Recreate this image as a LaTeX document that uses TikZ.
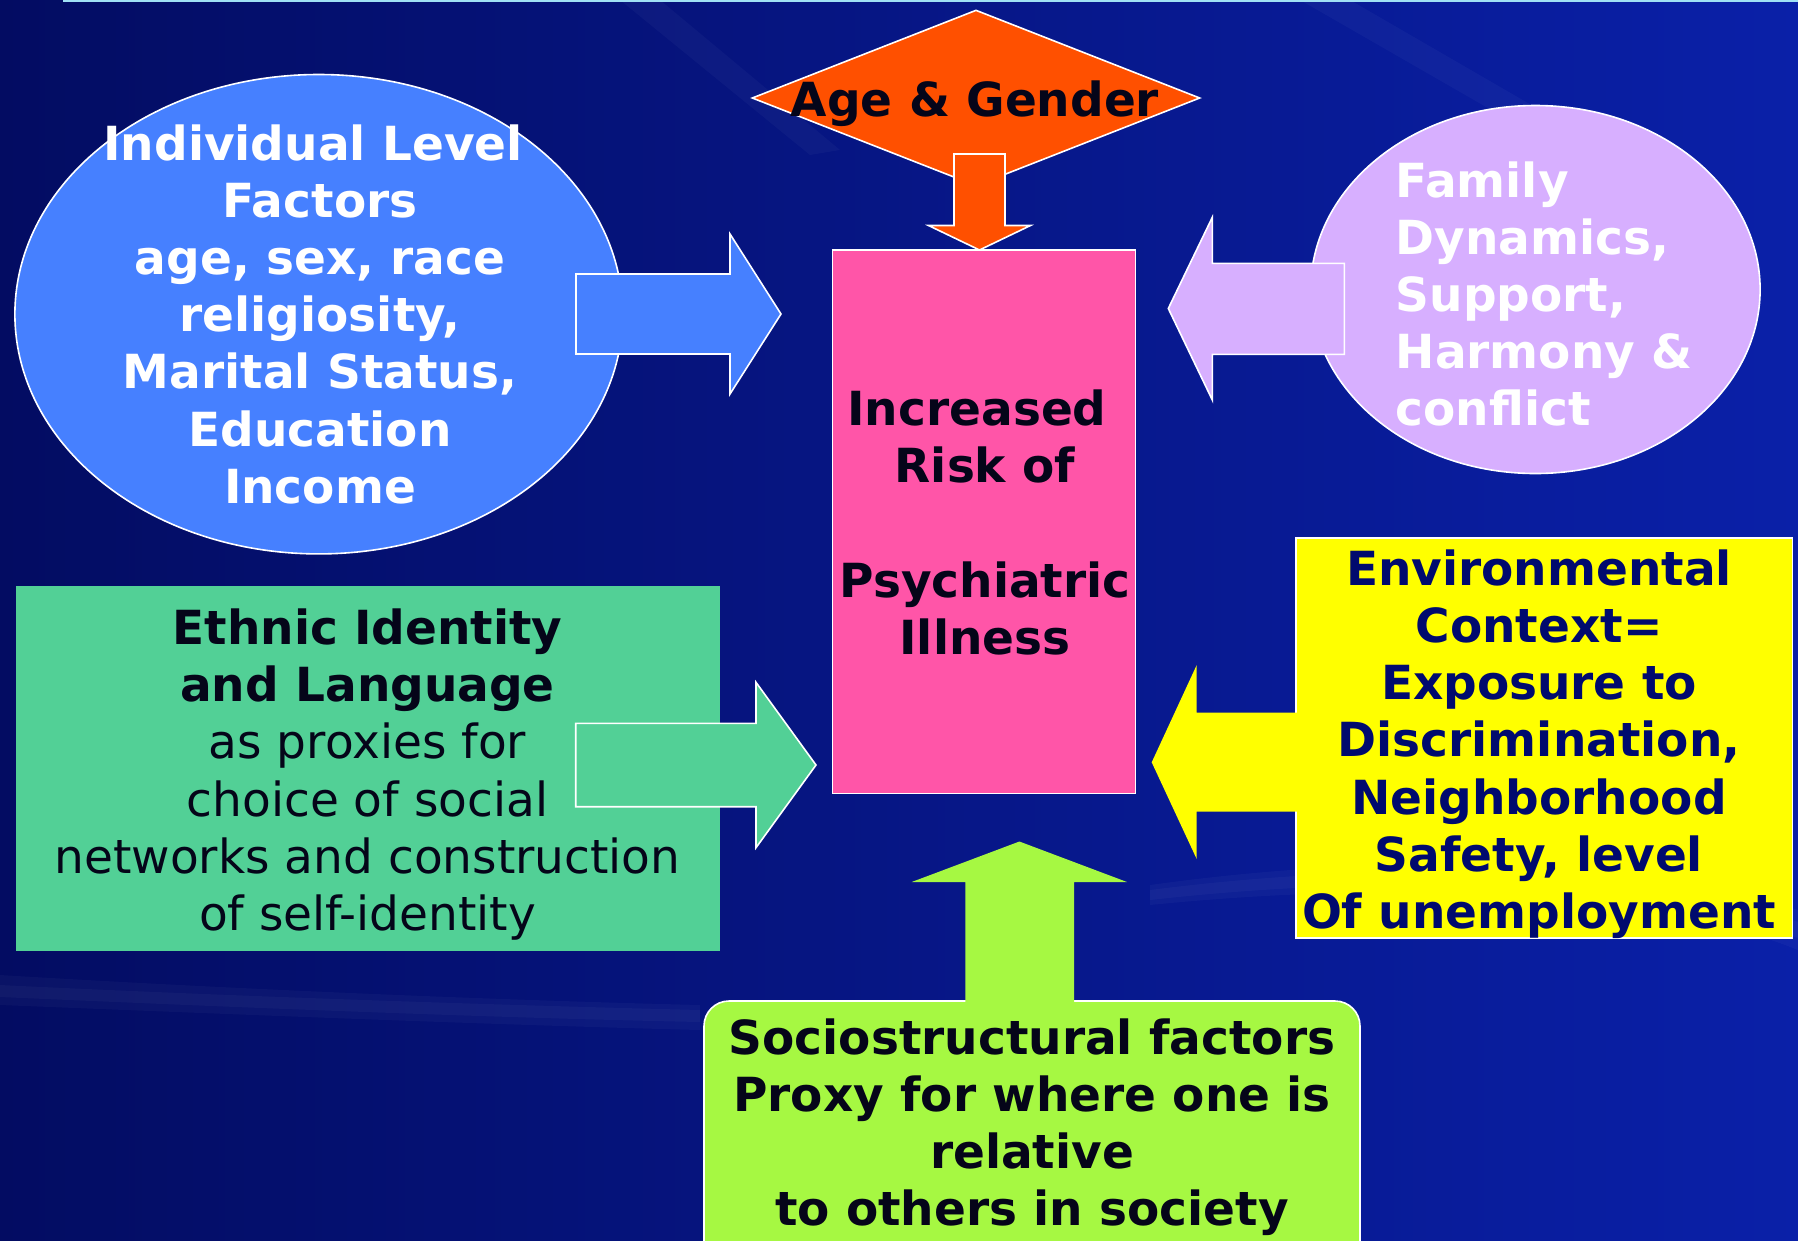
\documentclass[tikz,border=0pt]{standalone}
\usepackage{fontspec}
\setmainfont{DejaVu Sans}
\usetikzlibrary{shapes.geometric}
\definecolor{bgL}{RGB}{3,12,98}
\definecolor{bgR}{RGB}{10,32,168}
\definecolor{topline}{RGB}{160,225,245}
\definecolor{cBlue}{RGB}{70,128,255}
\definecolor{cPink}{RGB}{255,85,168}
\definecolor{cOrange}{RGB}{255,80,0}
\definecolor{cLav}{RGB}{215,175,255}
\definecolor{cGreen}{RGB}{82,208,150}
\definecolor{cYellow}{RGB}{255,255,0}
\definecolor{cLime}{RGB}{166,248,66}
\definecolor{cNavy}{RGB}{0,10,110}
\definecolor{cInk}{RGB}{5,5,25}
\begin{document}
\begin{tikzpicture}[x=1pt,y=-1pt,
  outl/.style={draw=white, line width=1.6pt, line join=miter},
  txt/.style={inner sep=0pt, align=center, font=\fontsize{47}{57.2}\selectfont\bfseries},
  streak/.style={fill=white, opacity=0.03}]
\useasboundingbox (0,0) rectangle (1798,1240);
% background
\shade[left color=bgL, right color=bgR] (0,0) rectangle (1798,1240);
\fill[streak] (0,975) .. controls (250,990) and (500,1000) .. (700,1005) -- (700,1030) .. controls (500,1025) and (250,1015) .. (0,1005) -- cycle;
\fill[streak] (0,985) .. controls (250,997) and (500,1005) .. (700,1010) -- (700,1022) .. controls (500,1018) and (250,1008) .. (0,997) -- cycle;
\fill[streak] (1150,885) .. controls (1400,850) and (1650,860) .. (1798,910) -- (1798,950) .. controls (1650,890) and (1400,880) .. (1150,905) -- cycle;
\fill[streak] (1150,890) .. controls (1400,858) and (1650,868) .. (1798,922) -- (1798,938) .. controls (1650,882) and (1400,872) .. (1150,900) -- cycle;
\fill[streak] (620,0) -- (660,0) -- (840,150) -- (810,155) -- cycle;
\fill[streak] (1300,0) -- (1350,0) -- (1540,110) -- (1500,115) -- cycle;
\draw[topline, line width=2pt] (63,1) -- (1798,1);

% blue ellipse + arrow
\node[ellipse, minimum width=607.8pt, minimum height=479.4pt, inner sep=0pt, fill=cBlue, outl] (ind) at (318.8,314.2) {};
\filldraw[fill=cBlue, outl] (576,274) -- (730,274) -- (730,234) -- (781,314) -- (730,394) -- (730,354) -- (576,354) -- cycle;

% central pink box
\node[rectangle, minimum width=303pt, minimum height=543.5pt, inner sep=0pt, fill=cPink, outl] (risk) at (984,521.75) {};

% diamond + down arrow
\node[diamond, minimum width=448pt, minimum height=176pt, inner sep=0pt, fill=cOrange, outl] (age) at (976,98) {};
\filldraw[fill=cOrange, outl] (954,154) -- (1005,154) -- (1005,225.5) -- (1030.5,225.5) -- (979.5,250) -- (928.5,225.5) -- (954,225.5) -- cycle;

% lavender ellipse + arrow
\node[ellipse, minimum width=449.4pt, minimum height=368pt, inner sep=0pt, fill=cLav, outl] (fam) at (1535.4,289.5) {};
\filldraw[fill=cLav, outl] (1344.3,263.3) -- (1212.3,263.3) -- (1212.3,217.3) -- (1168.3,308.5) -- (1212.3,400) -- (1212.3,354.3) -- (1344.3,354.3) -- cycle;

% green box + arrow
\node[rectangle, minimum width=703.5pt, minimum height=364.6pt, inner sep=0pt, fill=cGreen] (eth) at (367.75,768.3) {};
\filldraw[fill=cGreen, outl] (575.7,723.3) -- (756,723.3) -- (756,682.3) -- (816,765) -- (756,847.7) -- (756,806.7) -- (575.7,806.7) -- cycle;

% yellow box + arrow
\node[rectangle, minimum width=496.5pt, minimum height=400.2pt, inner sep=0pt, fill=cYellow, outl] (env) at (1544.05,737.9) {};
\fill[cYellow] (1300,712.7) -- (1196.7,712.7) -- (1196.7,665) -- (1151.7,762.3) -- (1196.7,859) -- (1196.7,811.7) -- (1300,811.7) -- cycle;

% lime rounded box + arrow
\node[rectangle, rounded corners=25pt, minimum width=656pt, minimum height=300pt, inner sep=0pt, fill=cLime, outl] (soc) at (1032,1151) {};
\fill[cLime] (965.3,1004) -- (965.3,882) -- (911.7,882) -- (1019.4,841.5) -- (1127,882) -- (1074,882) -- (1074,1004) -- cycle;

% texts
\node[txt, text=white] (tInd) at (320,320.2) {\strut Individual Level\hspace*{14pt}\\Factors\\age, sex, race\\religiosity,\hspace*{14pt}\\Marital Status,\hspace*{14pt}\\Education\\Income\strut};
\node[txt, text=cInk] (tRisk) at (985,528.5) {\strut Increased\hspace*{16pt}\\Risk of\\\strut\\Psychiatric\\Illness\strut};
\node[txt, text=cInk] (tAge) at (975,105.2) {\strut Age \& Gender};
\node[txt, text=white, align=left, anchor=west] (tFam) at (1395.5,300) {\strut Family\\Dynamics,\\Support,\\Harmony \&\\conflict\strut};
\node[txt, text=cInk] (tEth) at (367.5,776) {\strut Ethnic Identity\\and Language\\\mdseries as proxies for\\\mdseries choice of social\\\mdseries networks and construction\\\mdseries of self-identity\strut};
\node[txt, text=cNavy] (tEnv) at (1539,745.5) {\strut Environmental\\Context=\\Exposure to\\Discrimination,\\Neighborhood\\Safety, level\\Of unemployment\strut};
\node[txt, text=cInk] (tSoc) at (1032,1128.5) {\strut Sociostructural factors\\Proxy for where one is\\relative\\to others in society\strut};
\end{tikzpicture}
\end{document}
